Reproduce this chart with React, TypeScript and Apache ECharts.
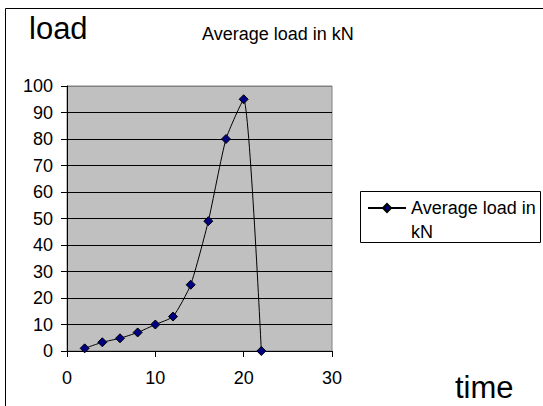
import React, { useEffect, useRef } from "react";
import * as echarts from "echarts";

const timeValues = [2, 4, 6, 8, 10, 12, 14, 16, 18, 20, 22];
const loadValues = [1, 3.3, 4.8, 7, 10, 13, 25, 49, 80, 95, 0];
const seriesName = "Average load in kN";
const yAxisTitle = "load";
const xAxisTitle = "time";

const FONT = "'Liberation Sans', Arial, sans-serif";

export default function App() {
  const ref = useRef<HTMLDivElement>(null);
  useEffect(() => {
    if (!ref.current) return;
    const chart = echarts.init(ref.current, null, { renderer: "svg" });
    const gridColors = Array.from({ length: 11 }, (_, i) => (i === 10 ? "#808080" : "#000000"));
    chart.setOption({
      animation: false,
      backgroundColor: "#ffffff",
      textStyle: { fontFamily: FONT },
      title: {
        text: seriesName,
        left: 202,
        top: 25,
        padding: 0,
        textStyle: { fontFamily: FONT, fontSize: 18, fontWeight: "normal", color: "#000" },
      },
      grid: {
        left: 67,
        right: 211,
        top: 86,
        bottom: 55,
        show: true,
        backgroundColor: "#c0c0c0",
        borderColor: "#808080",
        borderWidth: 1,
      },
      legend: {
        left: 367,
        top: 172,
        padding: 0,
        itemWidth: 38,
        itemHeight: 10,
        formatter: () => "\nAverage load in\nkN",
        textStyle: {
          fontFamily: FONT,
          fontSize: 18,
          color: "#000",
          lineHeight: 24,
        },
      },
      xAxis: {
        type: "value",
        min: 0,
        max: 30,
        interval: 10,
        axisLine: { show: true, lineStyle: { color: "#000", width: 1 } },
        axisTick: { show: true, length: 6, lineStyle: { color: "#000" } },
        axisLabel: { fontFamily: FONT, fontSize: 18, color: "#000", margin: 18 },
        splitLine: { show: false },
      },
      yAxis: {
        type: "value",
        min: 0,
        max: 100,
        interval: 10,
        axisLine: { show: true, lineStyle: { color: "#000", width: 1 } },
        axisTick: { show: true, length: 6, lineStyle: { color: "#000" } },
        axisLabel: { fontFamily: FONT, fontSize: 18, color: "#000", margin: 14 },
        splitLine: { show: true, lineStyle: { color: gridColors, width: 1 } },
      },
      series: [
        {
          name: seriesName,
          type: "line",
          data: timeValues.map((t, i) => [t, loadValues[i]]),
          smooth: 0.18,
          symbol: "diamond",
          symbolSize: 9,
          lineStyle: { color: "#000", width: 1 },
          itemStyle: { color: "#000080", borderColor: "#000", borderWidth: 1 },
        },
      ],
      graphic: [
        {
          type: "rect",
          shape: { x: 5.5, y: 8.5, width: 700, height: 600 },
          style: { fill: "none", stroke: "#000", lineWidth: 1 },
          z: -10,
        },
        {
          type: "rect",
          shape: { x: 360.5, y: 191.5, width: 180, height: 51 },
          style: { fill: "none", stroke: "#000", lineWidth: 1 },
        },
        {
          type: "text",
          x: 29,
          y: 28.6,
          style: { text: yAxisTitle, font: `31px ${FONT}`, fill: "#000", verticalAlign: "middle" },
        },
        {
          type: "text",
          x: 455,
          y: 387.6,
          style: { text: xAxisTitle, font: `31px ${FONT}`, fill: "#000", verticalAlign: "middle" },
        },
      ],
    });
    return () => chart.dispose();
  }, []);
  return (
    <div
      ref={ref}
      style={{ position: "absolute", left: 0, top: 0, width: 543, height: 406 }}
    />
  );
}
